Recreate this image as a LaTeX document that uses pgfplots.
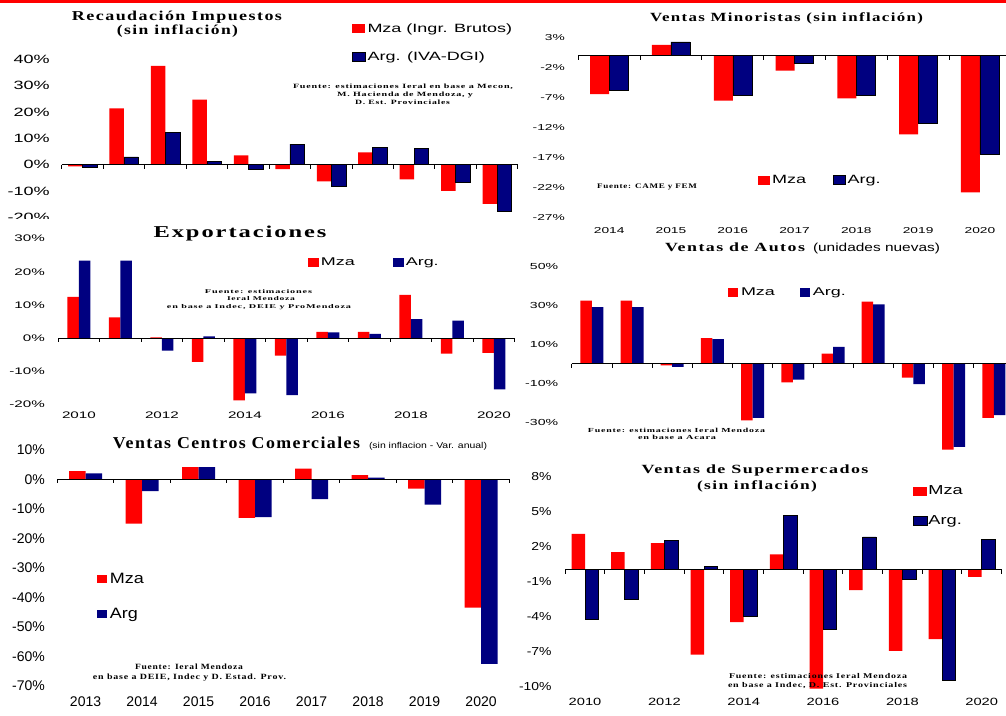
\documentclass[border=0pt]{standalone}
\usepackage{fontspec}
\setmainfont{Liberation Sans}
\newfontfamily\sA[FakeStretch=1.5]{Liberation Sans}
\newfontfamily\sB[FakeStretch=1.6]{Liberation Sans}
\newfontfamily\sC[FakeStretch=1.2]{Liberation Sans}
\newfontfamily\sD[FakeStretch=1.4]{Liberation Sans}
\newfontfamily\sN{Liberation Sans}
\newfontfamily\ser[LetterSpace=8]{Liberation Serif}
\usepackage{graphicx}
\usepackage{pgfplots}
\pgfplotsset{compat=1.18}
\definecolor{mzared}{HTML}{FF0000}
\definecolor{argblue}{HTML}{000080}
\newcommand\fs[1]{\fontsize{#1}{#1}\selectfont}
\newcommand\tx[6]{\node[inner sep=0pt,anchor=base] at (#1pt,715pt-#2pt) {\fs{#3}#4\resizebox{#5pt}{\height}{#6}};}
\newcommand\zl[1]{\draw[line width=1pt] (axis cs:-0.5,0) -- (axis cs:#1,0);
  \pgfplotsinvokeforeach{-0.5,0.5,...,#1}{\draw[line width=0.8pt] (axis cs:##1,0) -- ++(0pt,-4pt);}}
\pgfplotsset{
  pan/.style={scale only axis, anchor=south west, clip=false,
    axis x line*=bottom, axis y line*=left, axis line style={draw=none},
    tick style={draw=none}, major tick length=0pt, tick align=inside, xmin=-0.5,
    yticklabel style={inner sep=0pt, anchor=east},
    xticklabel style={inner sep=0pt, anchor=center},
    legend cell align=left,
    legend style={draw=none, fill=none, inner sep=0pt, outer sep=0pt, nodes={inner sep=0pt}, anchor=west},
  },
  sq/.style 2 args={legend image code/.code={\fill[##1] (0pt,-#2) rectangle (#1,#2);}},
}
\begin{document}
\begin{tikzpicture}
\path[use as bounding box] (0pt,0pt) rectangle (1006pt,715pt);
\clip (0pt,0pt) rectangle (1006pt,715pt);
\fill[white] (0pt,0pt) rectangle (1006pt,715pt);
\fill[mzared] (0pt,712pt) rectangle (1006pt,715pt);

% ---------- Panel 1: Recaudacion Impuestos
\begin{axis}[pan, at={(61.8pt,497.6pt)}, width=456pt, height=171.3pt,
  xmax=10.5, ymin=-20, ymax=45, xtick=\empty,
  ytick={-20,-10,0,10,20,30,40}, yticklabels={-20\%,-10\%,0\%,10\%,20\%,30\%,40\%},
  yticklabel style={font=\fs{12}\sA, xshift=-11.9pt},
  legend columns=1,
  legend style={at={(0.6364,1.018)}, font=\fs{12}\sA, row sep=18pt,
    /tikz/every odd column/.append style={column sep=2pt}},
]
\addplot[ybar, bar width=14.5pt, bar shift=-7.25pt, fill=mzared, draw=none, sq={13pt}{4.5pt}]
  coordinates {(0,-0.6) (1,21.4) (2,37.5) (3,24.7) (4,3.5) (5,-1.7) (6,-6.3) (7,4.7) (8,-5.6) (9,-9.9) (10,-14.9)};
\addplot[ybar, bar width=14.5pt, bar shift=7.25pt, fill=argblue, draw=black, line width=0.5pt, sq={13pt}{4.5pt}]
  coordinates {(0,-1.0) (1,3.0) (2,12.2) (3,1.2) (4,-1.7) (5,7.8) (6,-8.3) (7,6.5) (8,6.1) (9,-6.5) (10,-17.5)};
\legend{Mza (Ingr. Brutos), Arg. (IVA-DGI)}
\zl{10.5}
\end{axis}
\fill[white] (0pt,715pt-225pt) rectangle (60pt,715pt-219.5pt);

% ---------- Panel 2: Ventas Minoristas
\begin{axis}[pan, at={(578.3pt,497.3pt)}, width=432.5pt, height=180pt,
  xmax=6.5, ymin=-27, ymax=3,
  xtick={0,...,6}, xticklabels={2014,2015,2016,2017,2018,2019,2020},
  xticklabel style={font=\fs{8.6}\sB, yshift=-12.8pt},
  ytick={-27,-22,-17,-12,-7,-2,3}, yticklabels={-27\%,-22\%,-17\%,-12\%,-7\%,-2\%,3\%},
  yticklabel style={font=\fs{8.6}\sB, xshift=-13.3pt},
  legend columns=2,
  legend style={at={(0.4155,0.2094)}, font=\fs{12}\sA,
    /tikz/every odd column/.append style={column sep=2pt},
    /tikz/every even column/.append style={column sep=27pt}},
]
\addplot[ybar, bar width=19pt, bar shift=-9.5pt, fill=mzared, draw=none, sq={12pt}{4.5pt}]
  coordinates {(0,-6.4) (1,1.8) (2,-7.5) (3,-2.5) (4,-7.1) (5,-13.1) (6,-22.8)};
\addplot[ybar, bar width=19pt, bar shift=9.5pt, fill=argblue, draw=black, line width=0.5pt, sq={12pt}{4.5pt}]
  coordinates {(0,-5.8) (1,2.3) (2,-6.6) (3,-1.2) (4,-6.6) (5,-11.3) (6,-16.4)};
\legend{Mza, Arg.}
\zl{6.5}
\end{axis}

% ---------- Panel 3: Exportaciones
\begin{axis}[pan, at={(58.2pt,310.3pt)}, width=456.5pt, height=166pt,
  xmax=10.5, ymin=-20, ymax=30,
  xtick={0,2,...,10}, xticklabels={2010,2012,2014,2016,2018,2020},
  xticklabel style={font=\fs{9.5}\sB, yshift=-10.3pt},
  ytick={-20,-10,0,10,20,30}, yticklabels={-20\%,-10\%,0\%,10\%,20\%,30\%},
  yticklabel style={font=\fs{9.5}\sB, xshift=-13.2pt},
  legend columns=2,
  legend style={at={(0.5472,0.8596)}, font=\fs{11.2}\sB,
    /tikz/every odd column/.append style={column sep=2pt},
    /tikz/every even column/.append style={column sep=38pt}},
]
\addplot[ybar, bar width=11.5pt, bar shift=-5.75pt, fill=mzared, draw=none, sq={11pt}{4.5pt}]
  coordinates {(0,12.5) (1,6.3) (2,0.3) (3,-7.1) (4,-18.7) (5,-5.2) (6,1.9) (7,1.9) (8,13.1) (9,-4.6) (10,-4.4)};
\addplot[ybar, bar width=11.5pt, bar shift=5.75pt, fill=argblue, draw=none, sq={11pt}{4.5pt}]
  coordinates {(0,23.4) (1,23.4) (2,-3.7) (3,0.6) (4,-16.6) (5,-17.1) (6,1.8) (7,1.3) (8,5.8) (9,5.3) (10,-15.4)};
\legend{Mza, Arg.}
\zl{10.5}
\end{axis}

% ---------- Panel 4: Ventas de Autos
\begin{axis}[pan, at={(571.7pt,263.7pt)}, width=442.2pt, height=185.3pt,
  xmax=10.5, ymin=-45, ymax=50, xtick=\empty,
  ytick={-30,-10,10,30,50}, yticklabels={-30\%,-10\%,10\%,30\%,50\%},
  yticklabel style={font=\fs{8.8}\sB, xshift=-13.4pt},
  legend columns=2,
  legend style={at={(0.3535,0.8597)}, font=\fs{11.2}\sB,
    /tikz/every odd column/.append style={column sep=3pt},
    /tikz/every even column/.append style={column sep=25pt}},
]
\addplot[ybar, bar width=11.5pt, bar shift=-5.75pt, fill=mzared, draw=none, sq={10pt}{4.5pt}]
  coordinates {(0,32.3) (1,32.3) (2,-0.9) (3,13.0) (4,-29.1) (5,-9.7) (6,5.1) (7,31.8) (8,-7.2) (9,-44.1) (10,-27.9)};
\addplot[ybar, bar width=11.5pt, bar shift=5.75pt, fill=argblue, draw=none, sq={10pt}{4.5pt}]
  coordinates {(0,28.9) (1,28.9) (2,-1.7) (3,12.5) (4,-27.9) (5,-8.2) (6,8.5) (7,30.3) (8,-10.6) (9,-42.7) (10,-26.5)};
\legend{Mza, Arg.}
\zl{10.5}
\end{axis}

% ---------- Panel 5: Ventas Centros Comerciales
\begin{axis}[pan, at={(57.3pt,29.2pt)}, width=452pt, height=236pt,
  xmax=7.5, ymin=-70, ymax=10,
  xtick={0,...,7}, xticklabels={2013,2014,2015,2016,2017,2018,2019,2020},
  xticklabel style={font=\fs{14}\sN, yshift=-15.9pt},
  ytick={-70,-60,-50,-40,-30,-20,-10,0,10},
  yticklabels={-70\%,-60\%,-50\%,-40\%,-30\%,-20\%,-10\%,0\%,10\%},
  yticklabel style={font=\fs{14}\sN, xshift=-12.3pt},
  legend columns=1,
  legend style={at={(0.0878,0.378)}, font=\fs{15}\sC, row sep=23pt,
    /tikz/every odd column/.append style={column sep=3pt}},
]
\addplot[ybar, bar width=16.5pt, bar shift=-8.25pt, fill=mzared, draw=none, sq={10pt}{4pt}]
  coordinates {(0,2.8) (1,-15.0) (2,4.1) (3,-13.1) (4,3.6) (5,1.4) (6,-3.2) (7,-43.5)};
\addplot[ybar, bar width=16.5pt, bar shift=8.25pt, fill=argblue, draw=none, sq={10pt}{4pt}]
  coordinates {(0,2.0) (1,-4.0) (2,4.1) (3,-12.8) (4,-6.7) (5,0.6) (6,-8.6) (7,-62.6)};
\legend{Mza, Arg}
\zl{7.5}
\end{axis}

% ---------- Panel 6: Ventas de Supermercados
\begin{axis}[pan, at={(565.2pt,28.8pt)}, width=436.3pt, height=210pt,
  xmax=10.5, ymin=-10, ymax=8,
  xtick={0,2,...,10}, xticklabels={2010,2012,2014,2016,2018,2020},
  xticklabel style={font=\fs{10.5}\sD, yshift=-15.8pt},
  ytick={-10,-7,-4,-1,2,5,8}, yticklabels={-10\%,-7\%,-4\%,-1\%,2\%,5\%,8\%},
  yticklabel style={font=\fs{11.6}\sC, xshift=-13.5pt},
  legend columns=1,
  legend style={at={(0.797,0.858)}, font=\fs{13}\sD, row sep=19.5pt,
    /tikz/every odd column/.append style={column sep=1pt}},
]
\addplot[ybar, bar width=13.5pt, bar shift=-6.75pt, fill=mzared, draw=none, sq={14pt}{4.5pt}]
  coordinates {(0,3.06) (1,1.49) (2,2.26) (3,-7.29) (4,-4.51) (5,1.31) (6,-10.2) (7,-1.77) (8,-6.97) (9,-5.97) (10,-0.63)};
\addplot[ybar, bar width=13.5pt, bar shift=6.75pt, fill=argblue, draw=black, line width=0.5pt, sq={14pt}{4.5pt}]
  coordinates {(0,-4.26) (1,-2.54) (2,2.51) (3,0.29) (4,-4.0) (5,4.66) (6,-5.11) (7,2.8) (8,-0.8) (9,-9.49) (10,2.6)};
\legend{Mza, Arg.}
\zl{10.5}
\end{axis}

% ---------- titles
\tx{177}{20.7}{13.6}{\ser\bfseries}{210}{Recaudación Impuestos}
\tx{177.5}{35}{13.6}{\ser\bfseries}{121}{(sin inflación)}
\tx{786.5}{21.7}{12.5}{\ser\bfseries}{273}{Ventas Minoristas (sin inflación)}
\tx{240}{237.7}{16.6}{\ser\bfseries}{173}{Exportaciones}
\tx{735}{251.7}{12.5}{\ser\bfseries}{140}{Ventas de Autos}
\tx{876.5}{251.7}{11.6}{\sN}{127}{(unidades nuevas)}
\tx{236.5}{448.3}{16.6}{\ser\bfseries}{247}{Ventas Centros Comerciales}
\tx{428}{448.3}{8.5}{\sN}{118}{(sin inflacion - Var. anual)}
\tx{755}{473.3}{12.5}{\ser\bfseries}{227}{Ventas de Supermercados}
\tx{757}{490}{12.5}{\ser\bfseries}{120}{(sin inflación)}

% ---------- sources
\tx{403}{88.3}{6.5}{\ser\bfseries}{220}{Fuente: estimaciones Ieral en base a Mecon,}
\tx{405}{96.7}{6.5}{\ser\bfseries}{136}{M. Hacienda de Mendoza, y}
\tx{402.5}{105}{6.5}{\ser\bfseries}{95}{D. Est. Provinciales}
\tx{647}{189}{7}{\ser\bfseries}{100}{Fuente: CAME y FEM}
\tx{258.5}{293.7}{5.8}{\ser\bfseries}{107}{Fuente: estimaciones}
\tx{261}{300.7}{5.8}{\ser\bfseries}{68}{Ieral Mendoza}
\tx{259}{308.3}{5.8}{\ser\bfseries}{184}{en base a Indec, DEIE y ProMendoza}
\tx{676.5}{432.3}{6.2}{\ser\bfseries}{177}{Fuente: estimaciones Ieral Mendoza}
\tx{677}{440}{6.2}{\ser\bfseries}{78}{en base a Acara}
\tx{189}{669}{8}{\ser\bfseries}{108}{Fuente: Ieral Mendoza}
\tx{189.5}{679}{8}{\ser\bfseries}{193}{en base a DEIE, Indec y D. Estad. Prov.}
\tx{818}{678.3}{7.3}{\ser\bfseries}{178}{Fuente: estimaciones Ieral Mendoza}
\tx{817.5}{687.3}{7.3}{\ser\bfseries}{179}{en base a Indec, D. Est. Provinciales}
\end{tikzpicture}
\end{document}
